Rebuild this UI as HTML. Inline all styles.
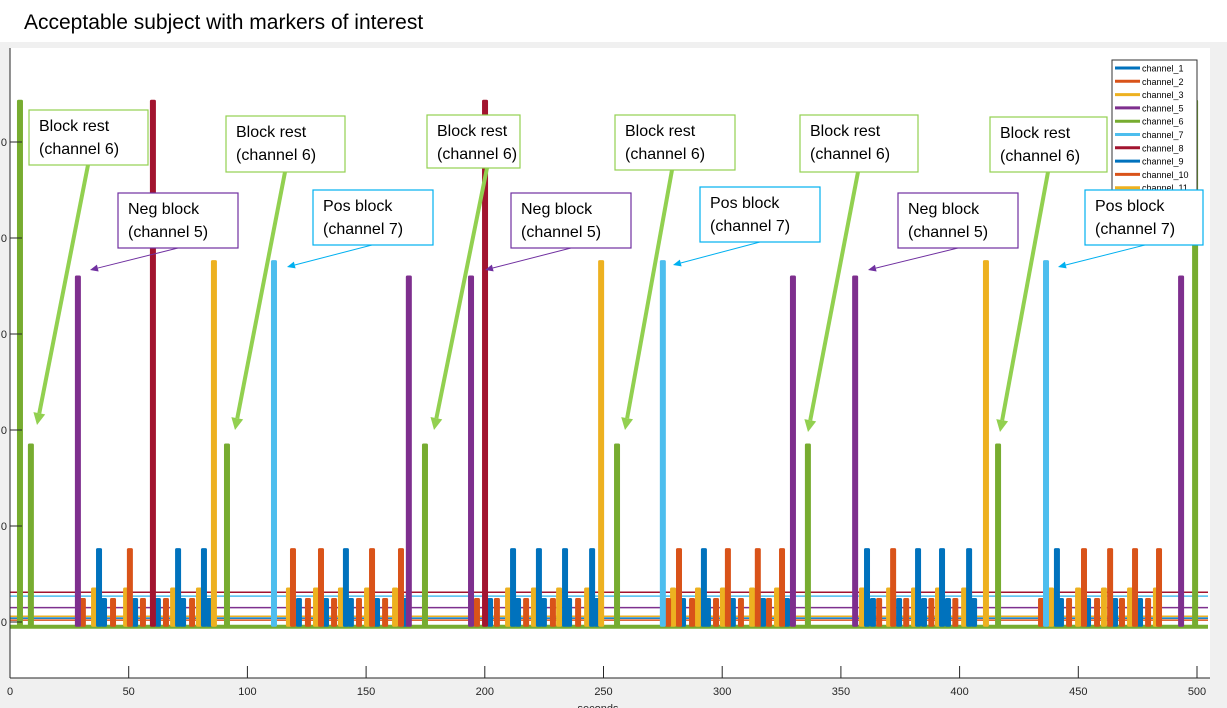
<!DOCTYPE html>
<html><head><meta charset="utf-8"><style>
html,body{margin:0;padding:0;background:#f0f0f0;}
svg{display:block;font-family:"Liberation Sans",sans-serif;}
</style></head><body>
<svg id="chart" width="1227" height="708" xmlns="http://www.w3.org/2000/svg">
<rect x="0" y="0" width="1227" height="42" fill="#fff"/>
<text x="24" y="29" font-size="21" fill="#000">Acceptable subject with markers of interest</text>
<rect x="10" y="48" width="1200" height="630" fill="#fff"/>
<g id="marks"></g>
<g id="axes"></g>
<g id="legend"></g>
<g id="notes"></g>
</svg>
<script>
const xTicks=[0,50,100,150,200,250,300,350,400,450,500];
const yTicks=[0,1,2,3,4,5];
const ch6Tall=[4.2,499.2]; const ch6TallVal=5.44;
const ch6Short=[8.8,91.4,174.8,255.7,336.1,416.2]; const ch6ShortVal=1.86;
const ch5=[28.6,168,194.2,329.8,356,493.3]; const ch5Val=3.61;
const ch8=[60.2,200.1]; const ch8Val=5.44;
const ch3Big=[85.9,249,411.1]; const ch3BigVal=3.77;
const ch7=[111.2,275,436.4]; const ch7Val=3.77;
const ch1Tall=[37.5,70.8,81.7,141.5,211.9,222.8,233.8,245.2,292.3,361,382.5,392.6,404,441]; const ch1TallVal=0.77;
const ch2Tall=[50.5,119.2,131,152.5,164.7,281.8,302.4,315,325.2,372,452.4,463.4,473.9,484]; const ch2TallVal=0.77;
const ch3Small=[35.4,48.9,68.7,79.6,117.5,128.9,139.4,150.4,162.2,209.8,220.7,231.3,243.1,279.3,289.8,300.3,312.6,323.1,358.9,370.3,380.8,390.9,401.9,438.5,449.9,460.8,471.8,482.7]; const ch3SmallVal=0.36;
const ch1Small=[39.6,52.7,62.3,72.9,83.8,121.7,133.1,143.6,154.6,166.4,202.2,214.0,224.9,235.5,247.3,283.5,294.0,304.5,317.2,327.3,363.5,374.5,385.0,395.1,406.1,442.7,454.1,465.5,476.0]; const ch1SmallVal=0.25;
const ch2Small=[30.7,43.4,56.0,65.7,76.7,125.5,136.5,147.0,158.0,196.7,205.1,217.4,228.7,239.3,277.2,287.3,297.4,307.9,319.7,366.1,377.5,388.1,398.2,434.3,446.1,457.9,468.4,479.4]; const ch2SmallVal=0.25;
const baseNames=['ch8-base','ch7-base','ch5-base','ch3-base','ch1-base','ch2-base','ch6-base'];
const baseLevels=[0.31,0.27,0.15,0.06,0.04,0.02,-0.05];
const legendNames=['channel_1','channel_2','channel_3','channel_5','channel_6','channel_7','channel_8','channel_9','channel_10','channel_11'];
const C={c1:'#0072bd',c2:'#d95319',c3:'#edb120',c5:'#7e2f8e',c6:'#77ac30',c7:'#4dbeee',c8:'#a2142f'};
const legendColors=[C.c1,C.c2,C.c3,C.c5,C.c6,C.c7,C.c8,C.c1,C.c2,C.c3];
const baseColors=[C.c8,C.c7,C.c5,C.c3,C.c1,C.c2,C.c6];
const X=v=>10+v*2.374;
const Y=v=>622-v*96;
const NS='http://www.w3.org/2000/svg';
function mk(tag,attrs,parent){const e=document.createElementNS(NS,tag);for(const k in attrs)e.setAttribute(k,attrs[k]);parent.appendChild(e);return e;}
const marks=document.getElementById('marks');
baseLevels.forEach((v,i)=>{
  const l=mk('line',{x1:10,x2:1208,y1:Y(v),y2:Y(v),stroke:baseColors[i],'stroke-width':i==6?4:1.5},marks);
  
  
});
function spikes(arr,val,color,w,name){
  arr.forEach(s=>{
    const x=X(s),y=Y(val);
    const r=mk('rect',{x:x-w/2,y:y,width:w,height:Y(-0.05)-y,fill:color,rx:1.5},marks);
    
    
  });
}
spikes(ch3Small,ch3SmallVal,C.c3,6,'ch3-small-spike');
spikes(ch2Small,ch2SmallVal,C.c2,6,'ch2-small-spike');
spikes(ch1Small,ch1SmallVal,C.c1,6,'ch1-small-spike');
spikes(ch1Tall,ch1TallVal,C.c1,6,'ch1-spike');
spikes(ch2Tall,ch2TallVal,C.c2,6,'ch2-spike');
spikes(ch6Short,ch6ShortVal,C.c6,6,'ch6-spike');
spikes(ch6Tall,ch6TallVal,C.c6,6,'ch6-tall-spike');
spikes(ch5,ch5Val,C.c5,6,'ch5-spike');
spikes(ch8,ch8Val,C.c8,6,'ch8-spike');
spikes(ch3Big,ch3BigVal,C.c3,6,'ch3-spike');
spikes(ch7,ch7Val,C.c7,6,'ch7-spike');
const axes=document.getElementById('axes');
let a=mk('line',{x1:10,x2:10,y1:48,y2:678,stroke:'#262626','stroke-width':1},axes);

a=mk('line',{x1:10,x2:1210,y1:678,y2:678,stroke:'#262626','stroke-width':1},axes);

xTicks.forEach(t=>{
  const tk=mk('line',{x1:X(t),x2:X(t),y1:666,y2:678,stroke:'#262626'},axes);
  
  const tx=mk('text',{x:X(t),y:695,'font-size':11,'text-anchor':'middle',fill:'#262626'},axes);
  tx.textContent=t;
  
});
yTicks.forEach(t=>{
  const tk=mk('line',{x1:10,x2:22,y1:Y(t),y2:Y(t),stroke:'#262626'},axes);
  
  const tx=mk('text',{x:7,y:Y(t)+4,'font-size':11,'text-anchor':'end',fill:'#262626'},axes);
  tx.textContent='0';
  
});
const xl=mk('text',{x:598,y:712,'font-size':11,'text-anchor':'middle',fill:'#262626'},axes);
xl.textContent='seconds';

const lg=document.getElementById('legend');
const lb=mk('rect',{x:1112,y:60,width:85,height:140,fill:'#fff',stroke:'#333','stroke-width':1},lg);

legendNames.forEach((n,i)=>{
  const y=68+i*13.3;
  const l=mk('line',{x1:1115,x2:1140,y1:y,y2:y,stroke:legendColors[i],'stroke-width':3},lg);
  
  const t=mk('text',{x:1142,y:y+3.5,'font-size':9,fill:'#000'},lg);
  t.textContent=n;
  
});
const notes=document.getElementById('notes');
const boxes=[
 [29,110,119,55,'#92d050','Block rest','(channel 6)',88,165,37,425,4],
 [226,116,119,56,'#92d050','Block rest','(channel 6)',285,172,235,430,4],
 [427,115,93,53,'#92d050','Block rest','(channel 6)',487,168,434,430,4],
 [615,115,120,55,'#92d050','Block rest','(channel 6)',672,170,625,430,4],
 [800,115,118,57,'#92d050','Block rest','(channel 6)',858,172,808,432,4],
 [990,117,117,55,'#92d050','Block rest','(channel 6)',1048,172,1000,432,4],
 [118,193,120,55,'#7030a0','Neg block','(channel 5)',178,248,90,270,1],
 [511,193,120,55,'#7030a0','Neg block','(channel 5)',571,248,485,270,1],
 [898,193,120,55,'#7030a0','Neg block','(channel 5)',958,248,868,270,1],
 [313,190,120,55,'#00b0f0','Pos block','(channel 7)',372,245,287,267,1],
 [700,187,120,55,'#00b0f0','Pos block','(channel 7)',760,242,673,265,1],
 [1085,190,118,55,'#00b0f0','Pos block','(channel 7)',1145,245,1058,267,1]
];
boxes.forEach(b=>{
  const [x,y,w,h,c,t1,t2,ax1,ay1,ax2,ay2,sw]=b;
  const ang=Math.atan2(ay2-ay1,ax2-ax1),hl=sw>2?12:8,hw=sw>2?6:3.5;
  const ex=ax2-Math.cos(ang)*hl, ey=ay2-Math.sin(ang)*hl;
  const ln=mk('line',{x1:ax1,y1:ay1,x2:ex,y2:ey,stroke:c,'stroke-width':sw},notes);
  
  const px=-Math.sin(ang)*hw, py=Math.cos(ang)*hw;
  const hd=mk('polygon',{points:`${ax2},${ay2} ${ex+px},${ey+py} ${ex-px},${ey-py}`,fill:c},notes);
  
  const r=mk('rect',{x:x,y:y,width:w,height:h,fill:'#fff',stroke:c,'stroke-width':1.2},notes);
  
  const a1=mk('text',{x:x+10,y:y+21,'font-size':16,fill:'#000'},notes);a1.textContent=t1;
  
  const a2=mk('text',{x:x+10,y:y+44,'font-size':16,fill:'#000'},notes);a2.textContent=t2;
  
});
</script>
</body></html>
